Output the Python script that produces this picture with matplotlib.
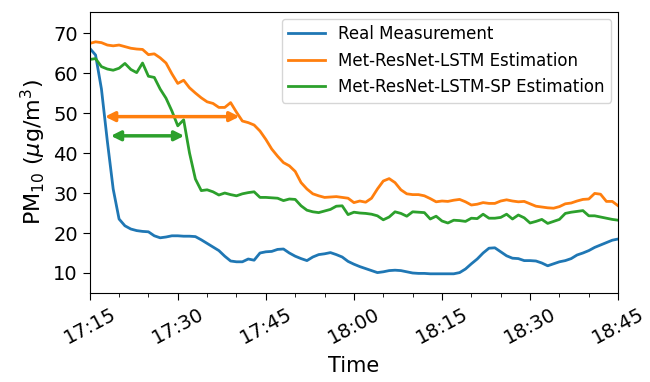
import numpy as np
import pandas as pd
import matplotlib
matplotlib.use("Agg")
import matplotlib.pyplot as plt
import matplotlib.dates as mdates

# one value per minute, 17:15 .. 18:45
times = pd.date_range("2020-01-01 17:15", "2020-01-01 18:45", freq="1min")

real = [66.2, 64.5, 56.0, 43.0, 31.0, 23.5, 21.8, 21.0, 20.6, 20.4,
        20.3, 19.3, 18.8, 19.0, 19.3, 19.3, 19.2, 19.2, 19.1, 18.3,
        17.4, 16.5, 15.6, 14.2, 13.0, 12.8, 12.8, 13.5, 13.2, 15.0,
        15.3, 15.4, 15.9, 16.0, 15.0, 14.2, 13.6, 13.1, 14.0, 14.6,
        14.8, 15.1, 14.6, 14.0, 12.9, 12.2, 11.6, 11.1, 10.6, 10.1,
        10.3, 10.6, 10.7, 10.6, 10.3, 10.0, 9.9, 9.9, 9.8, 9.8,
        9.8, 9.8, 9.8, 10.1, 11.0, 12.3, 13.5, 15.0, 16.2, 16.3,
        15.3, 14.3, 13.7, 13.6, 13.1, 13.1, 13.0, 12.5, 11.8, 12.3,
        12.8, 13.1, 13.6, 14.5, 15.0, 15.6, 16.4, 17.0, 17.6, 18.2,
        18.5]

lstm = [67.4, 67.8, 67.6, 67.0, 66.8, 67.0, 66.6, 66.2, 66.0, 65.9,
        64.6, 64.8, 63.8, 62.5, 59.8, 57.4, 58.2, 56.3, 55.0, 53.8,
        52.8, 52.4, 51.4, 51.4, 52.6, 50.2, 48.0, 47.6, 47.0, 45.5,
        43.4, 41.0, 39.2, 37.6, 36.8, 35.4, 32.6, 31.0, 29.8, 29.3,
        28.9, 29.0, 29.1, 28.9, 28.7, 27.6, 28.0, 27.7, 28.7, 31.0,
        33.0, 33.6, 32.6, 30.8, 29.8, 29.6, 29.6, 29.3, 28.6, 27.8,
        28.0, 27.9, 28.2, 28.4, 27.8, 27.0, 27.2, 27.6, 27.4, 27.4,
        28.0, 28.3, 28.0, 27.8, 27.9, 27.3, 26.7, 26.5, 26.3, 26.2,
        26.6, 27.3, 27.5, 28.0, 28.4, 28.5, 29.9, 29.7, 27.9, 27.9,
        26.8]

lstm_sp = [63.4, 63.6, 61.6, 61.0, 60.7, 61.2, 62.4, 60.9, 60.1, 62.5,
           59.2, 58.9, 56.0, 53.7, 50.5, 46.8, 48.3, 40.0, 33.5, 30.6,
           30.8, 30.3, 29.5, 30.0, 29.6, 29.3, 29.8, 30.1, 30.3, 28.9,
           28.9, 28.8, 28.7, 28.1, 28.5, 28.4, 26.8, 25.7, 25.3, 25.1,
           25.5, 25.9, 26.7, 26.8, 24.6, 25.2, 25.0, 24.9, 24.7, 24.3,
           23.3, 24.0, 25.3, 24.9, 24.2, 25.3, 25.2, 25.1, 23.5, 24.2,
           23.0, 22.5, 23.2, 23.1, 22.9, 23.7, 23.6, 24.7, 23.7, 23.7,
           23.9, 24.7, 23.5, 24.5, 23.8, 22.5, 22.9, 23.4, 22.4, 22.9,
           23.4, 24.9, 25.2, 25.4, 25.6, 24.3, 24.3, 24.0, 23.7, 23.4,
           23.2]

# lag arrows: (start, end, level)
arrow_lstm = ("2020-01-01 17:17:36", "2020-01-01 17:40:30", 49.1)
arrow_sp = ("2020-01-01 17:18:36", "2020-01-01 17:31:06", 44.3)

fig = plt.figure(figsize=(6.5, 3.82), dpi=100)
ax = fig.add_axes([0.138, 0.233, 0.813, 0.736])

ax.plot(times, real, color="#1f77b4", lw=2, label="Real Measurement")
ax.plot(times, lstm, color="#ff7f0e", lw=2, label="Met-ResNet-LSTM Estimation")
ax.plot(times, lstm_sp, color="#2ca02c", lw=2, label="Met-ResNet-LSTM-SP Estimation")

for (a, b, v), c in [(arrow_lstm, "#ff7f0e"), (arrow_sp, "#2ca02c")]:
    ax.annotate("", xy=(mdates.date2num(pd.Timestamp(b)), v),
                xytext=(mdates.date2num(pd.Timestamp(a)), v),
                arrowprops=dict(arrowstyle="<|-|>", color=c, lw=2.5,
                                mutation_scale=14, shrinkA=0, shrinkB=0))

ax.set_xlim(times[0], times[-1])
ax.set_ylim(5, 75.3)
ax.set_yticks([10, 20, 30, 40, 50, 60, 70])
ax.xaxis.set_major_locator(mdates.MinuteLocator(byminute=[0, 15, 30, 45]))
ax.xaxis.set_minor_locator(mdates.MinuteLocator(byminute=range(0, 60, 5)))
ax.xaxis.set_major_formatter(mdates.DateFormatter("%H:%M"))
ax.tick_params(axis="both", which="major", labelsize=14, length=5)
ax.tick_params(axis="x", which="minor", length=3)
plt.setp(ax.get_xticklabels(), rotation=28)

ax.set_xlabel("Time", fontsize=15, labelpad=6)
ax.set_ylabel(r"PM$_{10}$ ($\mu$g/m$^3$)", fontsize=16, labelpad=4)
ax.legend(loc="upper right", fontsize=12, handlelength=2.2, borderaxespad=0.4)

fig.savefig("out.png", dpi=100)
